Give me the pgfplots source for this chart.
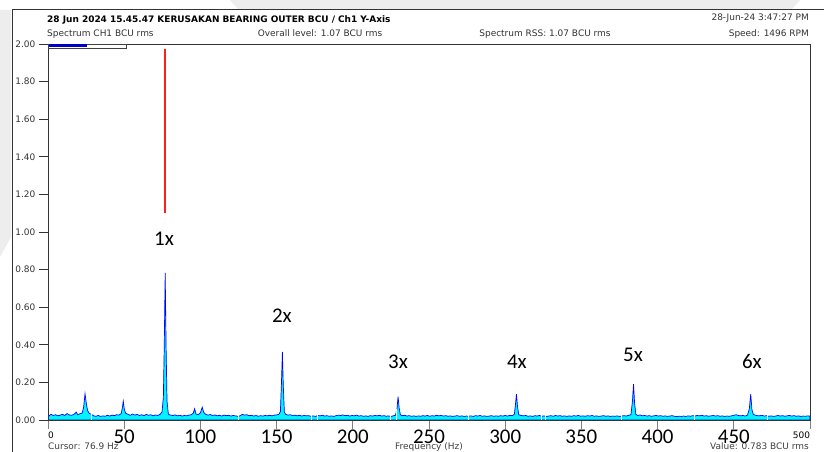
\documentclass[border=0pt]{standalone}
\usepackage{fontspec}
\setmainfont{DejaVu Sans}
\newfontfamily\calib{Carlito}
\usepackage{pgfplots}
\usepackage{pgfplotstable}
\pgfplotsset{compat=1.18}
\definecolor{spblue}{RGB}{0,0,255}
\definecolor{spcyan}{RGB}{0,245,255}
\definecolor{barblue}{RGB}{0,0,200}
\definecolor{cursorred}{RGB}{255,30,30}
\newcommand{\sm}{\fontsize{9}{10}\selectfont}
\newcommand{\bg}{\calib\fontsize{21}{24}\selectfont}
\pgfplotstableread{
x y
0 0.000
0.6 0.022
2 0.030
3.5 0.024
5 0.028
6.5 0.022
8 0.026
9.5 0.030
11 0.024
12.5 0.034
14 0.027
15.5 0.025
17 0.030
18.5 0.042
19.5 0.028
21 0.033
22.5 0.038
23.4 0.070
24.3 0.140
25.2 0.085
26 0.050
27 0.036
28.5 0.030
30 0.022
31.5 0.020
33 0.024
34.5 0.019
36 0.022
37.5 0.020
39 0.025
40.5 0.021
42 0.026
43.5 0.023
45 0.028
46.5 0.026
48 0.034
48.7 0.060
49.4 0.100
50.1 0.055
51 0.036
52.5 0.030
54 0.025
55.5 0.032
57 0.026
58.5 0.030
60 0.024
61.5 0.028
63 0.023
64.5 0.030
66 0.025
67.5 0.028
69 0.022
70.5 0.027
72 0.024
73.5 0.030
74.8 0.042
75.7 0.120
76.3 0.400
76.9 0.783
77.5 0.380
78.1 0.100
79 0.030
80.5 0.026
82 0.024
83.5 0.027
85 0.022
86.5 0.025
88 0.021
89.5 0.024
91 0.022
92.5 0.026
94 0.028
95.3 0.036
96.2 0.060
97.1 0.032
98.5 0.028
100 0.038
101.2 0.068
102.2 0.040
103.5 0.030
105 0.026
106.5 0.029
108 0.024
109.5 0.027
111 0.022
112.5 0.025
114 0.021
115.5 0.026
117 0.023
118.5 0.025
120 0.021
121.5 0.024
123 0.022
124.5 0.020
126 0.022
127.5 0.030
129 0.026
130.5 0.028
132 0.023
133.5 0.025
135 0.021
136.5 0.024
138 0.020
139.5 0.023
141 0.021
142.5 0.024
144 0.022
145.5 0.025
147 0.022
148.5 0.026
150 0.027
151.5 0.030
152.5 0.045
153.2 0.200
153.8 0.362
154.4 0.180
155.1 0.040
156 0.030
157.5 0.026
159 0.028
160.5 0.024
162 0.026
163.5 0.022
165 0.025
166.5 0.021
168 0.024
169.5 0.022
171 0.023
172.5 0.020
174 0.022
175.5 0.019
177 0.024
178.5 0.022
180 0.025
181.5 0.021
183 0.023
184.5 0.020
186 0.022
187.5 0.019
189 0.023
190.5 0.026
192 0.024
193.5 0.027
195 0.023
196.5 0.025
198 0.021
199.5 0.024
201 0.022
202.5 0.026
204 0.021
205.5 0.023
207 0.020
208.5 0.022
210 0.019
211.5 0.023
213 0.021
214.5 0.024
216 0.022
217.5 0.025
219 0.021
220.5 0.023
222 0.020
223.5 0.022
225 0.019
226.5 0.022
228 0.025
229 0.060
229.7 0.124
230.4 0.065
231.2 0.028
232.5 0.023
234 0.025
235.5 0.021
237 0.023
238.5 0.020
240 0.022
241.5 0.019
243 0.022
244.5 0.020
246 0.023
247.5 0.021
249 0.024
250.5 0.020
252 0.023
253.5 0.021
255 0.025
256.5 0.022
258 0.024
259.5 0.021
261 0.023
262.5 0.020
264 0.022
265.5 0.019
267 0.021
268.5 0.023
270 0.020
271.5 0.022
273 0.019
274.5 0.021
276 0.020
277.5 0.022
279 0.019
280.5 0.023
282 0.021
283.5 0.024
285 0.020
286.5 0.022
288 0.019
289.5 0.021
291 0.023
292.5 0.020
294 0.022
295.5 0.020
297 0.023
298.5 0.021
300 0.024
301.5 0.021
303 0.025
304.5 0.023
306 0.030
306.7 0.080
307.4 0.138
308.1 0.070
308.9 0.028
310.5 0.024
312 0.022
313.5 0.024
315 0.020
316.5 0.022
318 0.019
319.5 0.023
321 0.021
322.5 0.024
324 0.020
325.5 0.022
327 0.019
328.5 0.021
330 0.023
331.5 0.020
333 0.024
334.5 0.021
336 0.023
337.5 0.020
339 0.022
340.5 0.019
342 0.022
343.5 0.020
345 0.023
346.5 0.021
348 0.024
349.5 0.020
351 0.022
352.5 0.020
354 0.023
355.5 0.021
357 0.024
358.5 0.020
360 0.022
361.5 0.019
363 0.021
364.5 0.023
366 0.020
367.5 0.022
369 0.019
370.5 0.021
372 0.020
373.5 0.022
375 0.019
376.5 0.021
378 0.023
379.5 0.021
381 0.025
382.5 0.028
383.5 0.100
384.2 0.191
384.9 0.090
385.7 0.030
387 0.024
388.5 0.027
390 0.022
391.5 0.024
393 0.021
394.5 0.023
396 0.020
397.5 0.022
399 0.024
400.5 0.021
402 0.023
403.5 0.020
405 0.022
406.5 0.019
408 0.021
409.5 0.023
411 0.020
412.5 0.018
414 0.020
415.5 0.019
417 0.021
418.5 0.019
420 0.022
421.5 0.020
423 0.023
424.5 0.021
426 0.024
427.5 0.022
429 0.025
430.5 0.021
432 0.023
433.5 0.020
435 0.022
436.5 0.024
438 0.021
439.5 0.023
441 0.020
442.5 0.022
444 0.019
445.5 0.021
447 0.020
448.5 0.022
450 0.025
451.5 0.028
453 0.024
454.5 0.022
456 0.024
457.5 0.021
459 0.026
460.2 0.060
461.1 0.138
461.9 0.055
462.8 0.030
464 0.026
465.5 0.023
467 0.022
468.5 0.025
470 0.021
471.5 0.023
473 0.020
474.5 0.022
476 0.019
477.5 0.021
479 0.024
480.5 0.021
482 0.023
483.5 0.020
485 0.022
486.5 0.024
488 0.021
489.5 0.023
491 0.020
492.5 0.022
494 0.019
495.5 0.021
497 0.020
498.5 0.022
500 0.021
}\spec
\pgfplotstableread{
x y
28.2 0.06
125.0 0.06
173.0 0.06
176.5 0.06
224.5 0.06
228.5 0.06
276.2 0.06
324.0 0.06
326.1 0.06
376.0 0.06
424.5 0.06
472.4 0.06
}\gaps
\pgfplotstableread{
x y
76.9 1.10
76.9 1.975
}\cursorline
\begin{document}
\begin{tikzpicture}[x=1bp,y=1bp]
\useasboundingbox (0bp,0bp) rectangle (824bp,452bp);
\fill[white] (0bp,0bp) rectangle (824bp,452bp);
% faint background watermark
\fill[black!7] (0,442) -- (11,442) -- (11,215) -- (0,195) -- cycle;
\fill[black!7] (230,452) -- (800,452) -- (792,443) -- (238,443) -- cycle;
% outer frame
\draw[black!80, line width=0.9] (12,0) -- (12,443) -- (824,443);
% footer text (under the big labels)
\node[anchor=base west, inner sep=0, font=\sm, text=black!75] at (48,2.5) {Cursor: 76.9 Hz};
\node[anchor=base, inner sep=0, font=\sm, text=black!75] at (429,2.5) {Frequency (Hz)};
\node[anchor=base east, inner sep=0, font=\sm, text=black!75] at (809,2.5) {Value: 0.783 BCU rms};
\begin{axis}[
  at={(48bp,32bp)}, anchor=south west,
  scale only axis, width=762bp, height=376bp,
  xmin=0, xmax=500, ymin=0, ymax=2,
  axis on top,
  axis line style={draw=black!80, line width=0.9bp},
  tick align=outside, tick pos=left,
  major tick length=9bp,
  xtick={0,50,100,150,200,250,300,350,400,450,500},
  xticklabels={{\sm\raisebox{5.3bp}{\rlap{0}}},{\bg 50},{\bg 100},{\bg 150},{\bg 200},{\bg 250},{\bg 300},{\bg 350},{\bg 400},{\bg 450},{\sm\raisebox{5.3bp}{\llap{500}}}},
  xticklabel style={anchor=base, inner sep=0pt, yshift=-14.3bp},
  xtick style={draw=gray, line width=0.9bp},
  ytick={0,0.2,0.4,0.6,0.8,1.0,1.2,1.4,1.6,1.8,2.0},
  ytick style={draw=black!80, line width=0.9bp},
  yticklabel style={font=\sm, inner sep=0pt, xshift=-3.5bp, text=black!80},
  /pgf/number format/fixed,
  /pgf/number format/fixed zerofill,
  /pgf/number format/precision=2,
  /pgf/number format/assume math mode=true,
]
\addplot[draw=spblue, line width=0.7bp, fill=spcyan, mark=none] table[x=x,y=y]{\spec} \closedcycle;
\addplot[ycomb, draw=white, line width=0.9bp, mark=none] table[x=x,y=y]{\gaps};
\addplot[draw=cursorred, line width=1.7bp, mark=none] table[x=x,y=y]{\cursorline};
\node[font=\bg, inner sep=0] at (axis cs:76.1,0.963) {1x};
\node[font=\bg, inner sep=0] at (axis cs:153.5,0.553) {2x};
\node[font=\bg, inner sep=0] at (axis cs:229.7,0.309) {3x};
\node[font=\bg, inner sep=0] at (axis cs:307.7,0.309) {4x};
\node[font=\bg, inner sep=0] at (axis cs:383.9,0.346) {5x};
\node[font=\bg, inner sep=0] at (axis cs:461.9,0.309) {6x};
\end{axis}
% scroll indicator
\draw[black!75, fill=white, line width=0.8] (48,404) rectangle (126,408);
\fill[barblue] (48.5,404.5) rectangle (87,407.5);
% header text
\node[anchor=base west, inner sep=0, font=\sm\bfseries] at (47,429.3) {28 Jun 2024 15.45.47 KERUSAKAN BEARING OUTER BCU / Ch1 Y-Axis};
\node[anchor=base east, inner sep=0, font=\sm, text=black!80] at (809,431) {28-Jun-24 3:47:27 PM};
\node[anchor=base west, inner sep=0, font=\sm, text=black!80] at (47,415) {Spectrum CH1 BCU rms};
\node[anchor=base, inner sep=0, font=\sm, text=black!80] at (320,415) {Overall level: 1.07 BCU rms};
\node[anchor=base, inner sep=0, font=\sm, text=black!80] at (545,415) {Spectrum RSS: 1.07 BCU rms};
\node[anchor=base east, inner sep=0, font=\sm, text=black!80] at (809,415) {Speed: 1496 RPM};
\end{tikzpicture}
\end{document}
